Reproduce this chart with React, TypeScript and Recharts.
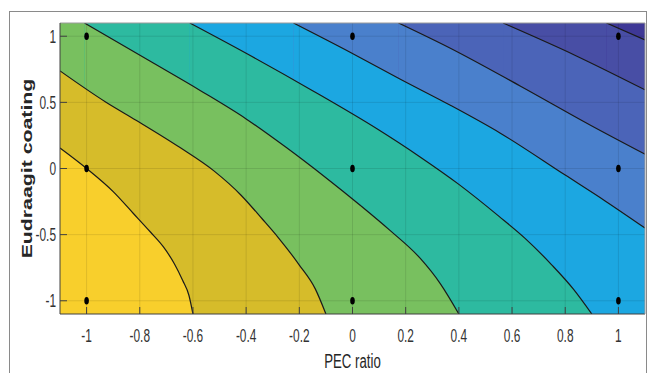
import React from "react";
import {
  ComposedChart,
  Area,
  Line,
  Scatter,
  XAxis,
  YAxis,
  ReferenceLine,
  CartesianGrid,
} from "recharts";

const X_TICKS = [-1, -0.8, -0.6, -0.4, -0.2, 0, 0.2, 0.4, 0.6, 0.8, 1];
const Y_TICKS = [-1, -0.5, 0, 0.5, 1];
const X_RANGE: [number, number] = [-1.1, 1.1];
const Y_RANGE: [number, number] = [-1.1, 1.1];

// contour levels as [PEC ratio, Eudraagit coating] pairs, lowest level first
const level1 = [[-1.1, 0.155], [-1.0, 0.0], [-0.9, -0.175], [-0.824, -0.34], [-0.76, -0.48], [-0.711, -0.593], [-0.67, -0.72], [-0.639, -0.845], [-0.615, -0.96], [-0.6, -1.1]];
const level2 = [[-1.1, 0.738], [-0.927, 0.501], [-0.814, 0.365], [-0.65, 0.16], [-0.52, -0.02], [-0.42, -0.2], [-0.34, -0.38], [-0.28, -0.52], [-0.2, -0.73], [-0.14, -0.91], [-0.1, -1.1]];
const level3 = [[-1.008, 1.1], [-0.762, 0.812], [-0.573, 0.59], [-0.4, 0.375], [-0.25, 0.16], [-0.1, -0.07], [0.03, -0.28], [0.142, -0.47], [0.255, -0.68], [0.33, -0.87], [0.4, -1.1]];
const level4 = [[-0.612, 1.1], [-0.4, 0.871], [-0.15, 0.588], [0.092, 0.3], [0.25, 0.093], [0.4, -0.12], [0.55, -0.36], [0.65, -0.53], [0.75, -0.73], [0.83, -0.91], [0.9, -1.1]];
const level5 = [[-0.222, 1.1], [-0.009, 0.879], [0.18, 0.675], [0.368, 0.478], [0.556, 0.267], [0.8, -0.05], [0.95, -0.245], [1.1, -0.45]];
const level6 = [[0.173, 1.1], [0.368, 0.909], [0.632, 0.622], [0.895, 0.327], [1.1, 0.108]];
const level7 = [[0.566, 1.1], [0.84, 0.853], [1.1, 0.595]];
const level8 = [[0.955, 1.1], [1.1, 0.972]];

const LEVELS = [level1, level2, level3, level4, level5, level6, level7, level8];

// band colours, from below the first level up to above the last one
const BAND_COLORS = ["#f8cf2c", "#d6bc2a", "#78c05f", "#2dbaa0", "#1ca7e1", "#4a80cc", "#4b64b8", "#484ea5", "#3e3896"];

const DESIGN_X = [-1, -1, -1, 0, 0, 0, 1, 1, 1];
const DESIGN_Y = [-1, 0, 1, -1, 0, 1, -1, 0, 1];

const FONT = '"Liberation Sans", Arial, Helvetica, sans-serif';
const SQUEEZE = 0.66;
const AXIS = "#404040";
const CURVE = "monotoneX";

const toPoints = (pairs: number[][]) => pairs.map(([x, y]) => ({ x, y }));

// a level leaving through the top edge also needs the strip to its left
// filled up to the top, from the left edge to where the level starts
const topStrip = (pairs: number[][]) => {
  const [x0, y0] = pairs[0];
  if (y0 < Y_RANGE[1]) return null;
  return [{ x: X_RANGE[0], y: Y_RANGE[1] }, { x: x0, y: Y_RANGE[1] }];
};

const designPoints = DESIGN_X.map((x, i) => ({ x, y: DESIGN_Y[i] }));

function BottomTick(props: any) {
  const { x, y, payload } = props;
  return (
    <text
      transform={`translate(${x},${y}) scale(${SQUEEZE},1)`}
      textAnchor="middle"
      dy="0.71em"
      fontSize={18}
      fontFamily={FONT}
      fill="#333"
    >
      {String(payload.value)}
    </text>
  );
}

function LeftTick(props: any) {
  const { x, y, payload } = props;
  return (
    <text
      transform={`translate(${x},${y}) scale(${SQUEEZE},1)`}
      textAnchor="end"
      dy="0.355em"
      fontSize={18}
      fontFamily={FONT}
      fill="#333"
    >
      {String(payload.value)}
    </text>
  );
}

const xTitle = (props: any) => {
  const vb = props.viewBox || {};
  return (
    <text
      transform={`translate(${vb.x + vb.width / 2},${vb.y + 54}) scale(${SQUEEZE},1)`}
      textAnchor="middle"
      fontSize={20}
      fontFamily={FONT}
      fill="#262626"
    >
      PEC ratio
    </text>
  );
};

const yTitle = (props: any) => {
  const vb = props.viewBox || {};
  return (
    <text
      transform={`translate(31.5,${vb.y + vb.height / 2}) scale(${SQUEEZE},1) rotate(-90)`}
      textAnchor="middle"
      fontSize={21.3}
      fontWeight="bold"
      fontFamily={FONT}
      fill="#262626"
    >
      Eudraagit coating
    </text>
  );
};

const DesignDot = (props: any) => (
  <ellipse cx={props.cx} cy={props.cy} rx={2.3} ry={3.8} fill="#000" />
);

export default function App() {
  // draw from the highest level down so each lower band sits on top
  const order = LEVELS.map((_, i) => i).reverse();

  return (
    <div style={{ position: "absolute", left: 0, top: 0, width: 649, height: 373, overflow: "hidden", background: "#fff" }}>
      <div
        style={{
          position: "absolute",
          left: 9,
          top: 11,
          width: 638,
          height: 400,
          borderLeft: "1px solid #8a8a8a",
          borderTop: "1px solid #8a8a8a",
          borderRight: "1px solid #8a8a8a",
          boxSizing: "border-box",
        }}
      />
      <div style={{ position: "absolute", left: 0, top: 0 }}>
        <ComposedChart width={649} height={373} margin={{ top: 22, right: 3, bottom: 30, left: 0 }}>
          <CartesianGrid horizontal={false} vertical={false} fill={BAND_COLORS[8]} fillOpacity={1} stroke="none" />

          {order.flatMap((i) => {
            const strip = topStrip(LEVELS[i]);
            const parts = [
              <Area
                key={`band-${i}`}
                data={toPoints(LEVELS[i])}
                dataKey="y"
                type={CURVE}
                stroke="none"
                fill={BAND_COLORS[i]}
                fillOpacity={1}
                baseValue="dataMin"
                dot={false}
                activeDot={false}
                isAnimationActive={false}
              />,
            ];
            if (strip) {
              parts.push(
                <Area
                  key={`strip-${i}`}
                  data={strip}
                  dataKey="y"
                  type="linear"
                  stroke="none"
                  fill={BAND_COLORS[i]}
                  fillOpacity={1}
                  baseValue="dataMin"
                  dot={false}
                  activeDot={false}
                  isAnimationActive={false}
                />
              );
            }
            return parts;
          })}

          {X_TICKS.map((v) => (
            <ReferenceLine key={`gx${v}`} x={v} stroke="#000" strokeOpacity={0.1} strokeWidth={1} />
          ))}
          {Y_TICKS.map((v) => (
            <ReferenceLine key={`gy${v}`} y={v} stroke="#000" strokeOpacity={0.1} strokeWidth={1} />
          ))}

          {LEVELS.map((lvl, i) => (
            <Line
              key={`level-${i}`}
              data={toPoints(lvl)}
              dataKey="y"
              type={CURVE}
              stroke="#1a1a1a"
              strokeWidth={1.2}
              dot={false}
              activeDot={false}
              isAnimationActive={false}
            />
          ))}

          <Scatter data={designPoints} dataKey="y" shape={DesignDot} isAnimationActive={false} />

          <XAxis
            type="number"
            dataKey="x"
            domain={X_RANGE}
            allowDataOverflow
            ticks={X_TICKS}
            interval={0}
            height={29}
            tickSize={-7}
            tickMargin={22}
            tick={BottomTick}
            tickLine={{ stroke: AXIS }}
            axisLine={{ stroke: AXIS }}
            label={xTitle}
          />
          <XAxis
            xAxisId="top"
            orientation="top"
            type="number"
            dataKey="x"
            domain={X_RANGE}
            allowDataOverflow
            ticks={X_TICKS}
            interval={0}
            height={1}
            tickSize={-7}
            tick={false}
            tickLine={{ stroke: AXIS }}
            axisLine={{ stroke: "#9a9a9a" }}
          />
          <YAxis
            type="number"
            dataKey="y"
            domain={Y_RANGE}
            allowDataOverflow
            ticks={Y_TICKS}
            interval={0}
            width={60}
            tickSize={-7}
            tickMargin={11}
            tick={LeftTick}
            tickLine={{ stroke: AXIS }}
            axisLine={{ stroke: AXIS }}
            label={yTitle}
          />
          <YAxis
            yAxisId="right"
            orientation="right"
            type="number"
            dataKey="y"
            domain={Y_RANGE}
            allowDataOverflow
            ticks={Y_TICKS}
            interval={0}
            width={1}
            tickSize={-7}
            tick={false}
            tickLine={{ stroke: AXIS }}
            axisLine={{ stroke: "#9a9a9a" }}
          />
        </ComposedChart>
      </div>
    </div>
  );
}
